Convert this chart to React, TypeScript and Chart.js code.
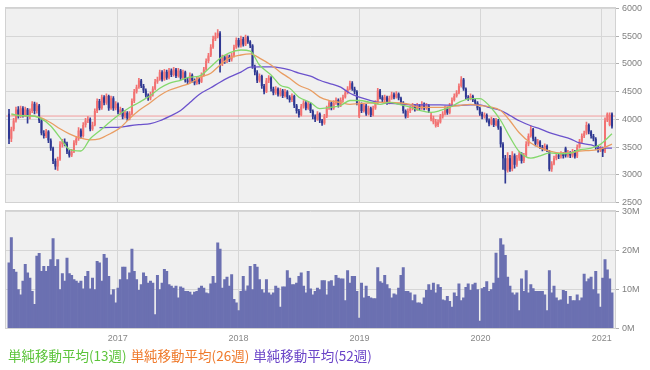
import React, { useEffect, useRef } from 'react';
import { Chart, registerables } from 'chart.js';
Chart.register(...registerables);

const startDate = '2016-02-08';
const yearLabels = ['2017', '2018', '2019', '2020', '2021'];

const opens = [
  4100,3650,3820,3980,4180,4060,4200,4080,4180,4050,
  4150,4280,4150,4250,3980,3750,3700,3780,3620,3480,
  3250,3150,3280,3550,3600,3560,3420,3350,3420,3580,
  3650,3800,3700,3900,3980,4000,3820,3900,4150,4330,
  4200,4400,4300,4420,4200,4380,4200,4280,4130,4180,
  4050,4120,4020,4100,4330,4500,4580,4700,4600,4520,
  4430,4380,4450,4550,4680,4720,4850,4720,4860,4750,
  4880,4800,4900,4780,4880,4750,4850,4700,4680,4800,
  4700,4650,4720,4680,4800,4900,5050,5150,5300,5450,
  5500,5550,5000,5120,5050,5130,5080,5150,5300,5430,
  5330,5450,5350,5480,5400,5330,4950,4850,4700,4780,
  4600,4500,4700,4750,4550,4480,4550,4450,4520,4420,
  4500,4400,4350,4420,4250,4150,4080,4230,4300,4200,
  4280,4150,4050,4000,4100,3980,3930,4050,4200,4300,
  4200,4300,4350,4250,4350,4400,4480,4550,4650,4550,
  4500,4050,4280,4150,4250,4100,4200,4080,4200,4300,
  4520,4400,4350,4400,4300,4380,4450,4400,4460,4380,
  4300,4150,4050,4150,4200,4250,4180,4250,4200,4280,
  4200,4250,4000,3950,3880,3900,3950,4050,4100,4200,
  4120,4250,4350,4420,4480,4600,4720,4550,4400,4380,
  4420,4350,4300,4200,4100,4050,4080,3980,3920,4000,
  3900,3980,3850,3550,3300,3080,3300,3100,3350,3180,
  3300,3380,3250,3350,3550,3700,3820,3650,3560,3600,
  3500,3470,3520,3420,3100,3200,3300,3350,3330,3380,
  3480,3350,3400,3350,3420,3330,3500,3600,3700,3750,
  3900,3780,3700,3650,3500,3450,3480,3420,3980,3900,
  4100,
];

const closes = [
  3650,3820,3980,4180,4060,4200,4080,4180,4050,4150,
  4280,4150,4250,3980,3750,3700,3780,3620,3480,3250,
  3150,3280,3550,3600,3560,3420,3350,3420,3580,3650,
  3800,3700,3900,3980,4000,3820,3900,4150,4330,4200,
  4400,4300,4420,4200,4380,4200,4280,4130,4180,4050,
  4120,4020,4100,4330,4500,4580,4700,4600,4520,4430,
  4380,4450,4550,4680,4720,4850,4720,4860,4750,4880,
  4800,4900,4780,4880,4750,4850,4700,4680,4800,4700,
  4650,4720,4680,4800,4900,5050,5150,5300,5450,5500,
  5550,5000,5120,5050,5130,5080,5150,5300,5430,5330,
  5450,5350,5480,5400,5330,4950,4850,4700,4780,4600,
  4500,4700,4750,4550,4480,4550,4450,4520,4420,4500,
  4400,4350,4420,4250,4150,4080,4230,4300,4200,4280,
  4150,4050,4000,4100,3980,3930,4050,4200,4300,4200,
  4300,4350,4250,4350,4400,4480,4550,4650,4550,4500,
  4300,4280,4150,4250,4100,4200,4080,4200,4300,4520,
  4400,4350,4400,4300,4380,4450,4400,4460,4380,4300,
  4150,4050,4150,4200,4250,4180,4250,4200,4280,4200,
  4250,4150,4080,4020,3960,3950,4050,4100,4200,4120,
  4250,4350,4420,4480,4600,4720,4550,4400,4380,4420,
  4350,4300,4200,4100,4050,4080,3980,3920,4000,3900,
  3980,3850,3550,3300,3080,3300,3100,3350,3180,3300,
  3380,3250,3350,3550,3700,3820,3650,3560,3600,3500,
  3470,3520,3450,3100,3200,3300,3350,3330,3380,3340,
  3350,3400,3350,3420,3330,3500,3600,3700,3750,3900,
  3780,3700,3650,3500,3450,3480,3420,3980,4100,4080,
  3870,
];

const highs = [
  4180,3860,4020,4220,4230,4240,4230,4220,4200,4190,
  4320,4310,4300,4270,4010,3800,3820,3800,3650,3500,
  3290,3320,3600,3640,3650,3590,3450,3460,3620,3690,
  3850,3830,3940,4020,4050,4030,3950,4190,4370,4360,
  4440,4430,4460,4440,4420,4410,4320,4300,4220,4200,
  4160,4140,4140,4370,4540,4620,4740,4720,4630,4550,
  4460,4490,4590,4720,4760,4890,4880,4900,4890,4920,
  4910,4940,4920,4920,4900,4890,4870,4740,4840,4820,
  4730,4760,4750,4840,4940,5090,5190,5350,5500,5560,
  5620,5580,5160,5150,5170,5160,5190,5340,5470,5460,
  5500,5480,5520,5500,5420,5350,4980,4880,4820,4800,
  4630,4740,4790,4770,4580,4590,4570,4560,4540,4540,
  4520,4430,4460,4440,4270,4180,4270,4340,4320,4320,
  4300,4170,4080,4140,4120,4000,4090,4240,4340,4320,
  4340,4390,4370,4390,4440,4520,4590,4690,4680,4580,
  4520,4320,4300,4290,4270,4240,4220,4240,4340,4560,
  4540,4430,4440,4420,4420,4490,4480,4500,4480,4400,
  4320,4170,4190,4240,4290,4270,4290,4270,4320,4300,
  4290,4270,4120,4060,4000,3990,4090,4140,4240,4220,
  4290,4390,4460,4520,4640,4770,4740,4570,4430,4460,
  4440,4380,4320,4220,4130,4120,4100,4010,4040,4020,
  4020,4000,3870,3580,3350,3400,3350,3420,3380,3350,
  3420,3400,3390,3600,3740,3880,3840,3680,3640,3620,
  3530,3560,3540,3440,3240,3340,3390,3380,3420,3400,
  3500,3440,3420,3460,3440,3540,3640,3740,3790,3950,
  3920,3800,3730,3670,3530,3520,3500,4030,4120,4120,
  4120,
];

const lows = [
  3560,3600,3790,3950,4020,4030,4040,4050,3930,4010,
  4120,4100,4110,3940,3720,3660,3670,3580,3440,3200,
  3100,3080,3260,3500,3520,3380,3320,3330,3400,3540,
  3620,3660,3680,3860,3940,3790,3800,3880,4120,4170,
  4180,4260,4270,4160,4180,4160,4170,4100,4090,4010,
  4020,3980,3990,4080,4300,4470,4560,4570,4480,4400,
  4340,4350,4420,4530,4650,4700,4690,4700,4720,4730,
  4770,4780,4750,4760,4720,4730,4670,4640,4660,4670,
  4620,4630,4640,4660,4780,4880,5020,5130,5280,5420,
  5470,4850,4970,5010,5020,5040,5050,5120,5280,5300,
  5300,5320,5330,5370,5290,4920,4800,4660,4670,4560,
  4460,4480,4660,4510,4440,4450,4420,4420,4390,4400,
  4370,4310,4320,4210,4110,4040,4060,4200,4170,4180,
  4120,4010,3960,3980,3940,3890,3910,4030,4180,4170,
  4180,4270,4220,4230,4320,4380,4460,4530,4520,4460,
  4260,4030,4120,4130,4070,4080,4050,4060,4180,4280,
  4370,4310,4320,4270,4280,4360,4370,4380,4350,4270,
  4110,4020,4030,4120,4170,4150,4160,4170,4180,4170,
  4180,4120,3970,3920,3860,3870,3930,4020,4080,4090,
  4100,4230,4330,4400,4460,4580,4520,4370,4340,4350,
  4320,4270,4170,4070,4010,4020,3950,3880,3900,3870,
  3880,3820,3500,3100,2850,3050,3060,3070,3120,3150,
  3260,3210,3220,3330,3520,3680,3610,3520,3530,3470,
  3430,3440,3420,3070,3060,3180,3270,3290,3300,3300,
  3320,3320,3310,3320,3300,3310,3480,3580,3670,3730,
  3740,3660,3610,3460,3410,3420,3330,3400,3960,3880,
  3840,
];

// weekly volume, millions of shares
const volumes = [
  16.8,23.3,15.1,14.4,9.9,8.6,12.1,16.4,14.2,12.9,
  9.5,6.1,18.5,19.2,14.6,15.9,14.6,15.9,17.6,23.0,
  15.9,17.6,9.9,14.0,12.1,18.0,14.0,13.6,12.5,12.1,
  11.6,12.1,10.1,13.3,14.6,10.1,12.9,9.9,17.2,16.8,
  12.1,19.0,18.0,13.3,8.6,9.9,6.5,
  10.3,12.5,15.7,15.7,12.5,14.2,20.3,14.6,12.5,9.7,
  11.2,14.2,13.3,11.6,12.1,11.6,3.5,13.6,9.9,11.6,
  15.1,14.6,11.2,10.8,10.3,10.8,7.8,10.6,10.3,9.5,
  9.5,9.3,8.6,9.3,9.5,10.3,10.8,10.3,9.1,8.9,
  11.4,13.3,11.6,21.9,20.3,10.3,12.5,13.1,10.8,13.8,
  7.4,6.5,4.5,
  9.5,13.3,9.6,10.9,15.9,9.9,16.4,15.7,12.5,9.9,
  9.1,12.5,9.1,8.6,9.1,10.8,10.3,5.4,10.6,10.6,
  14.8,12.9,11.2,11.2,11.6,13.3,14.2,10.8,9.1,14.6,
  10.1,8.6,9.5,10.3,
  9.9,12.2,12.2,8.6,12.0,12.2,10.8,13.6,12.9,12.7,
  12.7,7.1,14.8,11.6,13.3,13.3,9.5,2.6,11.6,7.8,
  10.8,8.2,7.8,7.6,7.6,15.6,12.0,11.6,13.6,11.2,
  10.2,7.8,8.8,8.6,10.3,13.6,15.6,9.5,9.5,9.1,
  7.1,8.6,6.5,6.5,6.2,7.8,9.7,11.2,9.7,11.6,
  9.1,11.2,10.5,7.3,7.1,8.2,6.9,5.4,9.1,8.2,
  11.4,7.1,7.8,10.5,11.4,9.7,11.2,11.6,9.9,1.8,
  10.2,10.5,12.0,9.5,9.9,11.6,19.3,12.9,23.0,21.4,
  18.7,13.1,10.8,9.1,8.6,9.1,4.5,12.7,9.5,14.8,
  9.1,11.2,10.2,9.5,9.5,9.5,9.5,8.6,4.5,14.8,
  9.1,10.8,7.8,7.1,7.3,9.7,9.5,6.2,8.2,7.1,
  7.1,8.6,7.1,7.8,13.9,12.0,12.7,13.1,9.9,14.6,
  8.8,5.4,12.9,17.6,15.0,12.7,9.1,
];

// moving averages at these week indices
const maWeeks = [
  1,5,9,13,18,22,26,31,35,39,44,48,52,56,61,65,69,74,78,82,87,91,95,100,104,108,113,117,121,125,
  130,134,138,143,147,151,156,160,164,169,173,177,182,186,190,194,199,203,207,212,216,220,225,229,233,238,242,246,251,255,260,
];
const ma13 = [
  4100,4065,4065,4030,3880,3670,3460,3430,3650,3790,3970,4100,4215,4305,4430,4560,4650,4705,4760,4780,
  4950,5100,5200,5250,5230,4980,4800,4615,4560,4400,4305,4195,4215,4250,4340,4340,4305,4270,4305,4260,
  4220,4160,4125,4160,4215,4305,4375,4375,4250,3980,3680,3420,3300,3340,3395,3380,3390,3450,3480,3550,3740,
];
const ma26 = [
  4080,4070,4065,4040,3940,3830,3740,3660,3630,3650,3750,3850,4015,4160,4305,4430,4525,4595,4650,4750,
  4830,4980,5105,5160,5180,5105,4980,4850,4740,4615,4525,4400,4340,4305,4270,4285,4295,4305,4305,4295,
  4270,4215,4215,4215,4230,4250,4270,4250,4230,4160,3975,3760,3575,3485,3430,3395,3395,3430,3440,3465,3555,
];
const ma52 = [
  null,null,null,null,null,null,null,null,null,3850,3855,3860,3885,3905,3925,3975,4050,4160,4305,4450,
  4570,4670,4760,4850,4940,4945,4945,4930,4890,4835,4780,4705,4650,4580,4470,4400,4340,4305,4290,4275,
  4260,4260,4260,4260,4255,4250,4260,4260,4215,4160,4070,3975,3885,3830,3760,3700,3650,3575,3540,3485,3480,
];

const refPrice = 4060;

const legendLabels = ['単純移動平均(13週)', '単純移動平均(26週)', '単純移動平均(52週)'];
const legendColors = ['#5cc43a', '#ef7a2c', '#6a44c8'];

const X_MIN = -1.3;
const X_MAX = 261.3;
const TICK_FONT = { family: "'Liberation Sans', Arial, sans-serif", size: 9 };
const GRID = '#d6d6d6';

function yearPositions(): number[] {
  const s = Date.parse(startDate + 'T00:00:00Z');
  return yearLabels.map((y) => (Date.UTC(Number(y), 0, 1) - s) / (7 * 86400000));
}

const plotBg = {
  id: 'plotBg',
  beforeDraw(chart: any) {
    const { ctx, chartArea: a } = chart;
    ctx.save();
    ctx.fillStyle = '#f0f0f0';
    ctx.fillRect(a.left, a.top, a.right - a.left, a.bottom - a.top);
    ctx.restore();
  },
  afterDraw(chart: any) {
    const { ctx, chartArea: a } = chart;
    ctx.save();
    ctx.strokeStyle = '#d2d2d2';
    ctx.lineWidth = 1;
    ctx.strokeRect(Math.round(a.left) - 0.5, Math.round(a.top) - 0.5, Math.round(a.right - a.left) + 1, Math.round(a.bottom - a.top) + 1);
    ctx.restore();
  },
};

export default function App() {
  const priceRef = useRef<HTMLCanvasElement>(null);
  const volRef = useRef<HTMLCanvasElement>(null);

  useEffect(() => {
    const xPos = yearPositions();
    const up = '#f27272';
    const down = '#2f3892';
    const colors = closes.map((c, i) => (c >= opens[i] ? up : down));
    const maData = (arr: (number | null)[]) => maWeeks.map((w, k) => ({ x: w, y: arr[k] }));
    const lineBase = { type: 'line', pointRadius: 0, borderWidth: 1.3, cubicInterpolationMode: 'monotone', order: 0 };

    const price = new Chart(priceRef.current as HTMLCanvasElement, {
      type: 'bar',
      data: {
        datasets: [
          { ...lineBase, data: maData(ma13), borderColor: '#84d86c' },
          { ...lineBase, data: maData(ma26), borderColor: '#e99d62' },
          { ...lineBase, data: maData(ma52), borderColor: '#6b52cc' },
          {
            type: 'bar',
            data: closes.map((c, i) => ({ x: i, y: [opens[i], c] })),
            backgroundColor: colors,
            barPercentage: 0.85,
            categoryPercentage: 1,
            grouped: false,
            minBarLength: 1,
            order: 1,
          },
          {
            type: 'bar',
            data: highs.map((h, i) => ({ x: i, y: [lows[i], h] })),
            backgroundColor: colors,
            barThickness: 1,
            grouped: false,
            order: 2,
          },
          {
            type: 'line',
            data: [{ x: X_MIN, y: refPrice }, { x: X_MAX, y: refPrice }],
            borderColor: '#f29c9c',
            borderWidth: 1,
            pointRadius: 0,
            order: 3,
          },
        ],
      } as any,
      options: {
        animation: false,
        responsive: false,
        layout: { padding: { left: 6, top: 5, right: 0, bottom: 1 } },
        plugins: { legend: { display: false }, tooltip: { enabled: false } },
        scales: {
          x: {
            type: 'linear',
            min: X_MIN,
            max: X_MAX,
            offset: false,
            afterBuildTicks: (ax: any) => { ax.ticks = xPos.map((v) => ({ value: v })); },
            ticks: { display: false },
            grid: { color: GRID, drawTicks: false, offset: false },
            border: { display: false },
          },
          y: {
            position: 'right',
            min: 2500,
            max: 6000,
            ticks: { stepSize: 500, color: '#808080', font: TICK_FONT, padding: 3, callback: (v: any) => String(v) },
            grid: { color: GRID, tickColor: '#b0b0b0', tickLength: 4 },
            border: { display: false },
            afterFit: (s: any) => { s.width = 35; },
          },
        },
      } as any,
      plugins: [plotBg],
    });

    const vol = new Chart(volRef.current as HTMLCanvasElement, {
      type: 'bar',
      data: {
        datasets: [
          {
            data: volumes.map((v, i) => ({ x: i, y: v })),
            backgroundColor: '#6b70b1',
            barPercentage: 1,
            categoryPercentage: 1,
            grouped: false,
          },
        ],
      } as any,
      options: {
        animation: false,
        responsive: false,
        layout: { padding: { left: 6, top: 1, right: 0, bottom: 0 } },
        plugins: { legend: { display: false }, tooltip: { enabled: false } },
        scales: {
          x: {
            type: 'linear',
            min: X_MIN,
            max: X_MAX,
            offset: false,
            afterBuildTicks: (ax: any) => { ax.ticks = xPos.map((v) => ({ value: v })); },
            ticks: {
              callback: (_v: any, i: number) => yearLabels[i],
              color: '#888888',
              font: TICK_FONT,
              maxRotation: 0,
              autoSkip: false,
              padding: 5,
            },
            grid: { color: GRID, drawTicks: false, offset: false },
            border: { display: false },
          },
          y: {
            position: 'right',
            min: 0,
            max: 30,
            ticks: { stepSize: 10, color: '#808080', font: TICK_FONT, padding: 3, callback: (v: any) => v + 'M' },
            grid: { color: GRID, tickColor: '#b0b0b0', tickLength: 4 },
            border: { display: false },
            afterFit: (s: any) => { s.width = 35; },
          },
        },
      } as any,
      plugins: [plotBg],
    });

    return () => {
      price.destroy();
      vol.destroy();
    };
  }, []);

  return (
    <div style={{ position: 'absolute', left: 0, top: 0, width: 650, height: 370, background: '#fff', overflow: 'hidden' }}>
      <canvas ref={priceRef} width={650} height={211} style={{ position: 'absolute', left: 0, top: 0, display: 'block' }} />
      <canvas ref={volRef} width={650} height={146} style={{ position: 'absolute', left: 0, top: 203, display: 'block' }} />
      <div
        style={{
          position: 'absolute',
          left: 8,
          top: 346,
          fontFamily: "'Noto Sans CJK JP', sans-serif",
          fontSize: 13.5,
          lineHeight: '18px',
          whiteSpace: 'nowrap',
        }}
      >
        {legendLabels.map((t, k) => (
          <span key={k} style={{ color: legendColors[k], marginRight: 4 }}>{t}</span>
        ))}
      </div>
    </div>
  );
}
